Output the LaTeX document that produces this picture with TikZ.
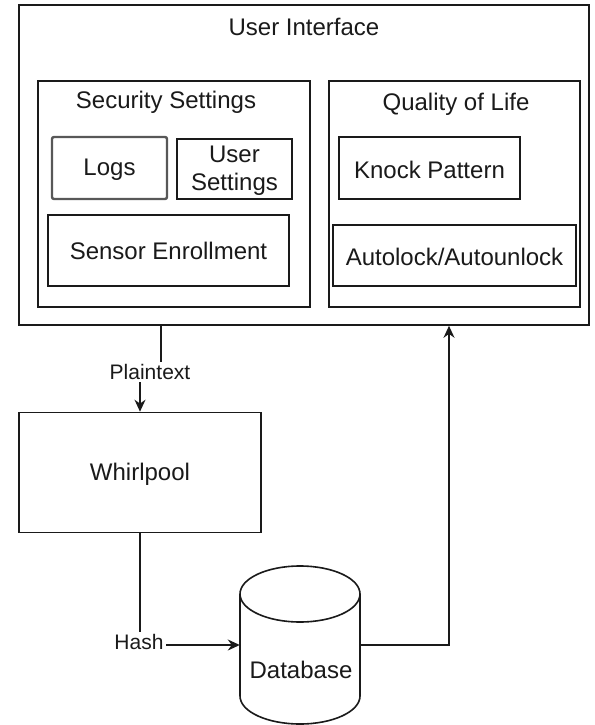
\documentclass[tikz,border=0pt]{standalone}
\usepackage{fontspec}
\setmainfont{Liberation Sans}
\usetikzlibrary{arrows.meta}
\definecolor{ink}{HTML}{1A1A1A}
\definecolor{softink}{HTML}{585858}
\tikzset{
  box/.style={draw=ink, line width=1.6pt, inner sep=0pt, fill=white},
  softbox/.style={draw=softink, line width=2.4pt, inner sep=0pt, rounded corners=2pt},
  txt/.style={text=ink, font=\fontsize{24}{28}\selectfont, inner sep=0pt},
  lbl/.style={text=ink, font=\fontsize{21}{25}\selectfont, fill=white, inner sep=2pt},
  conn/.style={draw=ink, line width=1.6pt},
  arr/.style={conn, -{Stealth[length=12pt,width=11pt]}}
}
\begin{document}
\begin{tikzpicture}[x=1pt,y=-1pt]
\useasboundingbox[fill=white] (0,0) rectangle (594,725);
% User interface
\node[box, minimum width=570pt, minimum height=320pt] (ui) at (304,165) {};
\node[txt] (uit) at (304,27) {User Interface};
% Security settings
\node[box, minimum width=272pt, minimum height=226pt] (sec) at (174,194) {};
\node[txt] (sect) at (166,102) {Security Settings};
\node[softbox, minimum width=115pt, minimum height=62pt] (logs) at (109.5,168) {};
\node[txt] (logst) at (109.5,170) {Logs};
\node[box, minimum width=115pt, minimum height=60pt] (usr) at (234.5,169) {};
\node[txt, align=center] (usrt) at (234.5,171) {User\\Settings};
\node[box, minimum width=241pt, minimum height=71pt] (sens) at (168.5,250.5) {};
\node[txt] (senst) at (168.5,251) {Sensor Enrollment};
% Quality of life
\node[box, minimum width=251pt, minimum height=226pt] (qol) at (454.5,194) {};
\node[txt] (qolt) at (456,104) {Quality of Life};
\node[box, minimum width=181pt, minimum height=62pt] (knock) at (429.5,168) {};
\node[txt] (knockt) at (429.5,170) {Knock Pattern};
\node[box, minimum width=243pt, minimum height=61pt] (auto) at (454.5,255.5) {};
\node[txt] (autot) at (454.5,257) {Autolock/Autounlock};
% Whirlpool
\node[box, minimum width=242pt, minimum height=120pt] (whirl) at (140,472.5) {};
\node[txt] (whirlt) at (140,474) {Whirlpool};
% Database cylinder
\node[minimum width=120pt, minimum height=158pt, inner sep=0pt] (db) at (300,645) {};
\draw[conn, fill=white] (240,594) -- (240,696) arc[start angle=180, end angle=360, x radius=60pt, y radius=28pt] -- (360,594);
\draw[conn] (300,594) ellipse [x radius=60pt, y radius=28pt];
\node[txt] (dbt) at (301,670) {Database};
% Plaintext connector
\coordinate (p1) at (161,372);
\coordinate (p2) at (140,372);
\draw[arr] (ui.south -| p1) -- (p1) -- (p2) -- (whirl.north);
\node[lbl] (plbl) at (150,372) {Plaintext};
% Hash connector
\coordinate (h1) at (140,645);
\draw[arr] (whirl.south) -- (h1) -- (db.west);
\node[lbl] (hlbl) at (139,642) {Hash};
% Database to UI
\coordinate (d1) at (449,645);
\draw[arr] (db.east) -- (d1) -- (d1 |- ui.south);
\end{tikzpicture}
\end{document}
